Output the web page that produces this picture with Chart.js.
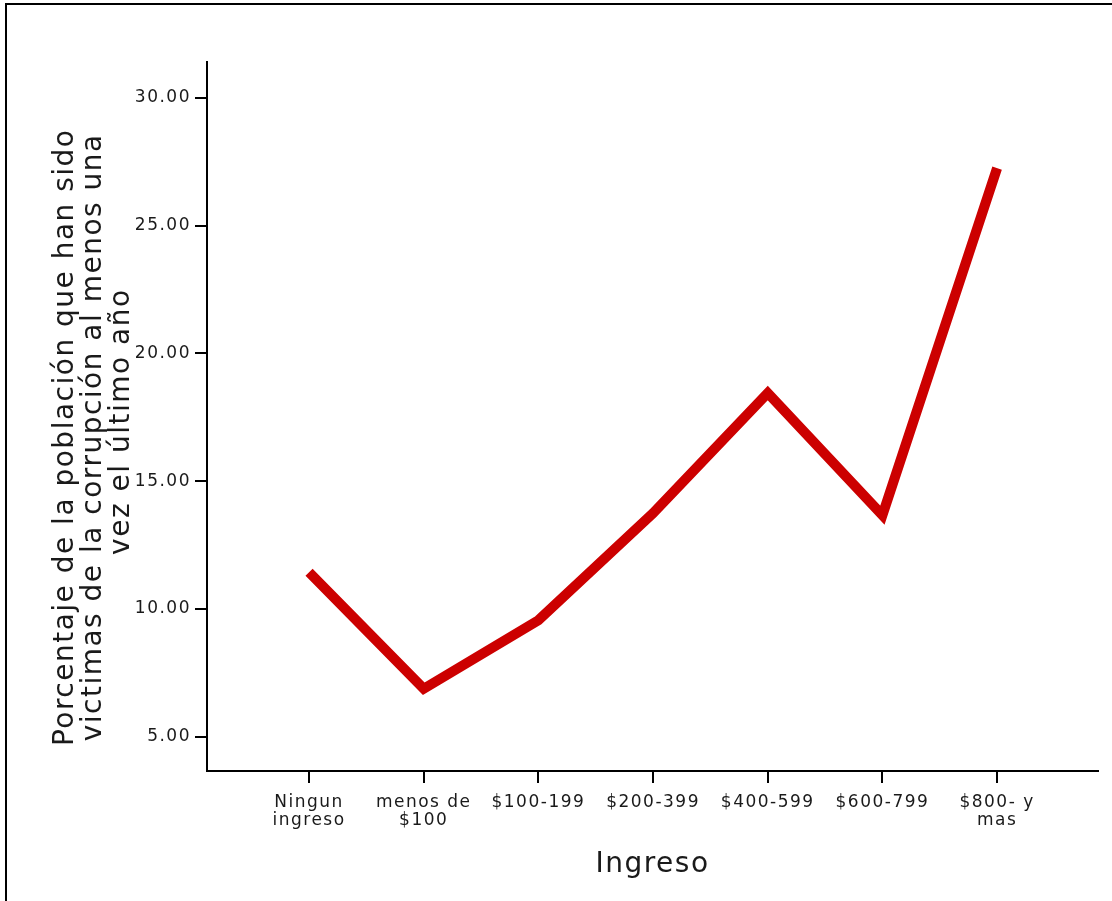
<!DOCTYPE html>
<html>
<head>
<meta charset="utf-8">
<script src="https://cdn.jsdelivr.net/npm/chart.js@4/dist/chart.umd.min.js"></script>
<style>
  html, body { margin: 0; padding: 0; background: #fff; overflow: hidden; }
  #wrap { position: relative; width: 1112px; height: 901px; }
  #frame { position: absolute; left: 5px; top: 3px; right: 0; bottom: 0;
           border-top: 2px solid #000; border-left: 2px solid #000; pointer-events: none; }
  #myChart { position: absolute; left: 0; top: 0; }
</style>
</head>
<body>
<div id="wrap">
  <canvas id="myChart" width="1112" height="901"></canvas>
  <div id="frame"></div>
</div>
<script>
// data
const categories = [['Ningun', 'ingreso'], ['menos de', '$100'], '$100-199', '$200-399', '$400-599', '$600-799', ['$800- y', 'mas']];
const pctVictims = [11.44, 6.88, 9.56, 13.75, 18.45, 13.67, 27.25];
const yTickValues = [5, 10, 15, 20, 25, 30];

const xTitle = 'Ingreso';
// trailing spaces nudge the first lines down like the original
const yTitle = ['Porcentaje de la población que han sido    ', 'victimas de la corrupción al menos una    ', 'vez el último año '];

const textColor = '#1a1a1a';
const tickFont = { family: 'DejaVu Sans', size: 17, lineHeight: 1.06 };
const titleFont = { family: 'DejaVu Sans', size: 28, lineHeight: 1.0 };

const spacing = {
  id: 'spacing',
  beforeDraw(chart) {
    chart.ctx.letterSpacing = '1.5px';
  }
};

const ctx = document.getElementById('myChart').getContext('2d');
const myChart = new Chart(ctx, {
  type: 'line',
  data: {
    datasets: [{
      data: pctVictims.map((v, i) => ({ x: i, y: v })),
      borderColor: '#cc0000',
      borderWidth: 10,
      borderJoinStyle: 'miter',
      borderCapStyle: 'butt',
      pointRadius: 0,
      fill: false,
      tension: 0
    }]
  },
  options: {
    responsive: false,
    animation: false,
    layout: { padding: { top: 62, right: 14, left: 0, bottom: 0 } },
    plugins: { legend: { display: false }, tooltip: { enabled: false } },
    scales: {
      x: {
        type: 'linear',
        min: -0.89,
        max: 6.88,
        afterBuildTicks: (scale) => { scale.ticks = categories.map((c, i) => ({ value: i })); },
        afterFit: (scale) => { scale.height = 130; },
        border: { display: true, color: '#000', width: 2 },
        grid: { drawOnChartArea: false, drawTicks: true, tickLength: 12, tickColor: '#000', tickWidth: 2, color: '#000', lineWidth: 2 },
        ticks: {
          autoSkip: false,
          maxRotation: 0,
          minRotation: 0,
          padding: 11,
          color: textColor,
          font: tickFont,
          callback: (v) => categories[v]
        },
        title: {
          display: true,
          text: xTitle,
          color: textColor,
          font: titleFont,
          padding: { top: 0, bottom: 22 }
        }
      },
      y: {
        min: 3.66,
        max: 31.4,
        afterBuildTicks: (scale) => { scale.ticks = yTickValues.map(v => ({ value: v })); },
        afterFit: (scale) => { scale.width = 207; },
        border: { display: true, color: '#000', width: 2 },
        grid: { drawOnChartArea: false, drawTicks: true, tickLength: 12, tickColor: '#000', tickWidth: 2, color: '#000', lineWidth: 2 },
        ticks: {
          padding: 4,
          color: textColor,
          font: tickFont,
          callback: (v) => Number(v).toFixed(2)
        },
        title: {
          display: true,
          text: yTitle,
          color: textColor,
          font: titleFont,
          padding: { top: 52, bottom: 0 }
        }
      }
    }
  },
  plugins: [spacing]
});
</script>
</body>
</html>
